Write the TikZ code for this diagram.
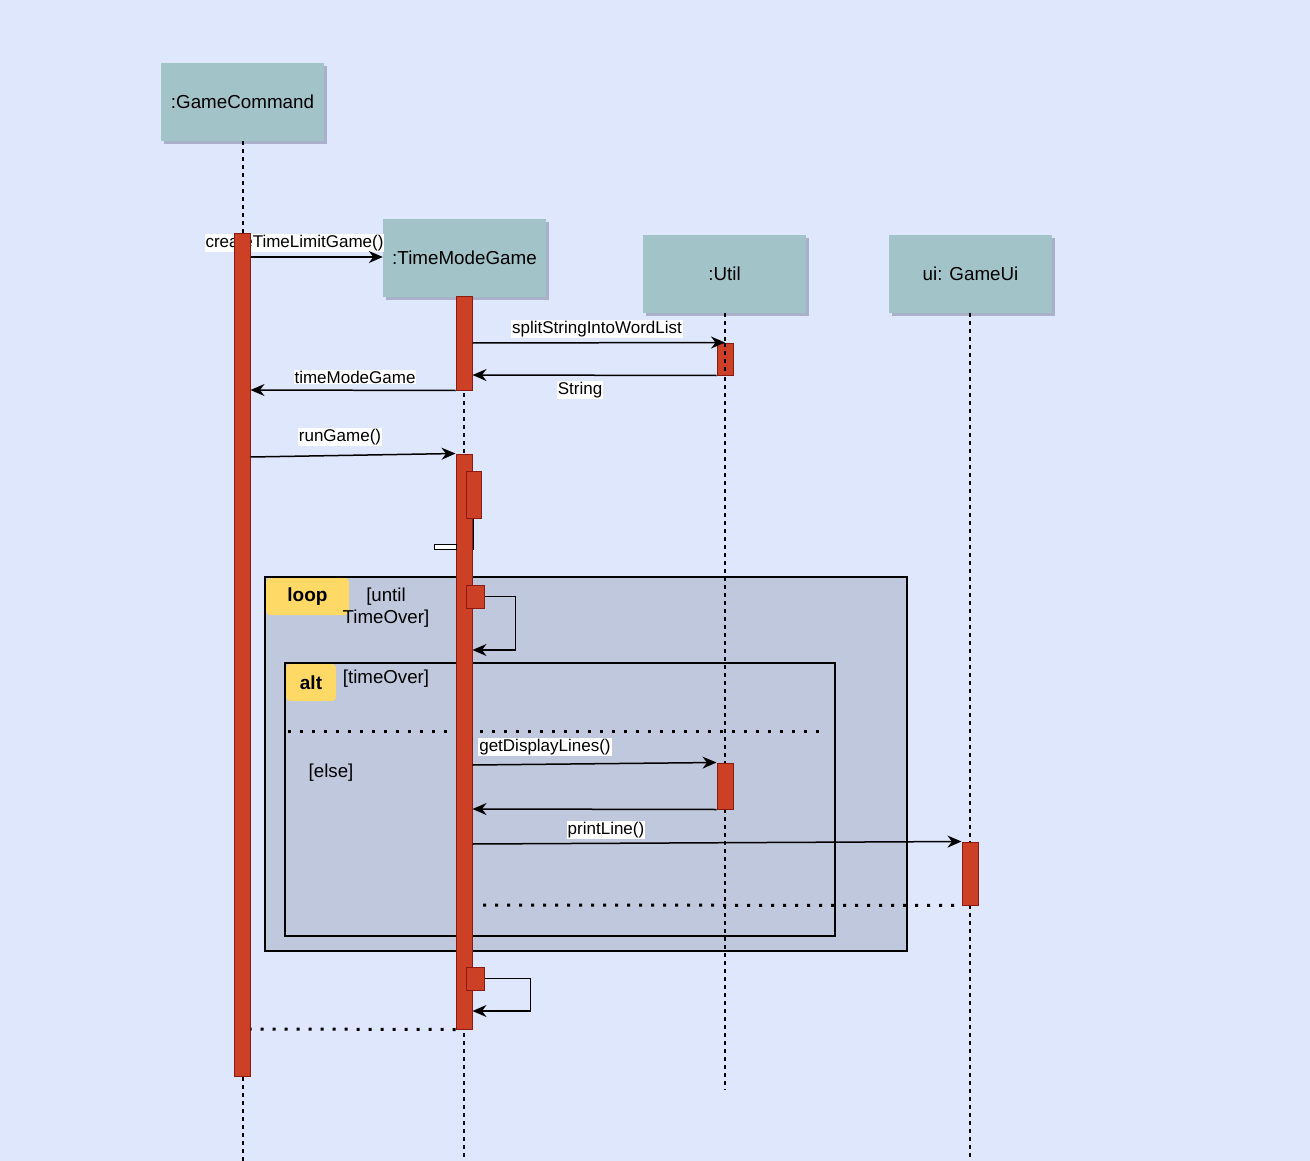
\documentclass[tikz,border=0pt]{standalone}
\usepackage{fontspec}
\setmainfont{Liberation Sans}
\usetikzlibrary{shadows,arrows.meta}
\definecolor{bgc}{HTML}{DEE7FC}
\definecolor{headc}{HTML}{A2C4C9}
\definecolor{shadc}{HTML}{A9B0C9}
\definecolor{barc}{HTML}{CC4125}
\definecolor{bard}{HTML}{8B1A10}
\definecolor{framec}{HTML}{BFC8DC}
\definecolor{tagc}{HTML}{FFD966}
\begin{document}
\begin{tikzpicture}[x=1pt,y=-1pt,
 head/.style={fill=headc, minimum width=163pt, minimum height=78pt, inner sep=0pt,
   font=\fontsize{18.8}{22}\selectfont,
   drop shadow={shadow xshift=3pt, shadow yshift=-3pt, fill=shadc, opacity=1}},
 bar/.style={fill=barc, draw=bard, line width=1pt, minimum width=16pt, inner sep=0pt},
 life/.style={line width=1.3pt, dash pattern=on 4pt off 4pt},
 msg/.style={line width=1.5pt, -{Stealth[length=14pt,width=12pt,inset=4.5pt]}},
 ret/.style={line width=3pt, dash pattern=on 3pt off 9pt},
 lab/.style={fill=white, inner sep=1pt, font=\fontsize{17}{20}\selectfont},
 frame/.style={fill=framec, draw=black, line width=1.3pt},
 tag/.style={fill=tagc, rounded corners=4pt, inner sep=0pt, minimum height=37pt,
   font=\fontsize{19}{22}\selectfont\bfseries},
 guard/.style={inner sep=0pt, align=center, font=\fontsize{18.7}{22}\selectfont}
]
\useasboundingbox (0,0) rectangle (1310,1161);
\fill[bgc] (0,0) rectangle (1310,1161);

% frames
\draw[frame] (265,577) rectangle (907,951);
\node[tag, minimum width=83pt] (looptag) at (307.5,596.5) {loop};
\node[guard] (loopg) at (386,608) {[until\\TimeOver]};
\draw[frame] (285,663) rectangle (835,936);
\node[tag, minimum width=50pt] (alttag) at (311,682.5) {alt};
\node[guard] (altg) at (386,679) {[timeOver]};
\node[guard] (elseg) at (331,773) {[else]};
\draw[ret] (288,731) -- (825,731);

% heads
\node[head] (gc) at (242.5,102) {:GameCommand};
\node[head] (tmg) at (464.5,258) {:TimeModeGame};
\node[head] (util) at (724.5,274) {:Util};
\node[head] (ui) at (970.5,274) {ui: GameUi};

% lifelines
\draw[life] (gc.south -| 243,0) -- (243,1161);
\draw[life] (tmg.south -| 464,0) -- (464,1161);
\draw[life] (util.south -| 725,0) -- (725,1090);
\draw[life] (ui.south -| 970,0) -- (970,1161);

% label under bar
\node[lab] (l1) at (294.5,243) {createTimeLimitGame()};

% bars
\node[bar, minimum height=842pt] (b1) at (242,655) {};
\node[bar, minimum height=93pt] (b2) at (464,343.5) {};
\node[bar, minimum height=575pt] (b3) at (464,741.5) {};
\node[bar, minimum height=32pt] (b4) at (725,359) {};
\draw[life] (725,343) -- (725,375);
\node[bar, minimum height=46pt] (b5) at (725,786) {};
\node[bar, minimum height=63pt] (b6) at (970,873.5) {};
\node[bar, minimum width=15pt, minimum height=47pt] (n1) at (473.5,494.5) {};
\node[bar, minimum width=18pt, minimum height=23pt] (n2) at (475,596.5) {};
\node[bar, minimum width=18pt, minimum height=23pt] (n3) at (475,978.5) {};

% odd little shape
\draw[line width=1pt] (n1.south) -- ++(0,31);
\draw[fill=white, line width=1pt] (434,544) rectangle (456,549);

% messages
\draw[msg] (b1.east |- 0,257) -- (tmg.west |- 0,257);
\draw[msg] (b2.east |- 0,343) -- (b4.north -| 725,0);
\node[lab] (l2) at (597,329) {splitStringIntoWordList};
\draw[msg] (b4.south west) -- (b2.east |- 0,375);
\node[lab] (l3) at (580,390) {String};
\draw[msg] (b2.south west) -- (b1.east |- 0,390);
\node[lab] (l4) at (355,377) {timeModeGame};
\draw[msg] (b1.east |- 0,457) -- (b3.north west);
\node[lab] (l5) at (340,437) {runGame()};
\draw[msg] (n2.east) -- ++(31,0) |- (b3.east |- 0,650);
\draw[msg] (b3.east |- 0,765) -- (b5.north west);
\node[lab] (l6) at (545,747) {getDisplayLines()};
\draw[msg] (b5.south west) -- (b3.east |- 0,809);
\draw[msg] (b3.east |- 0,844) -- (b6.north west);
\node[lab] (l7) at (606,830) {printLine()};
\coordinate (r1end) at (483,905);
\draw[ret] (r1end) -- (b6.south west);
\draw[msg] (n3.east) -- ++(46,0) |- (b3.east |- 0,1011);
\draw[ret] (b3.south west) -- (b1.east |- 0,1029);
\end{tikzpicture}
\end{document}
